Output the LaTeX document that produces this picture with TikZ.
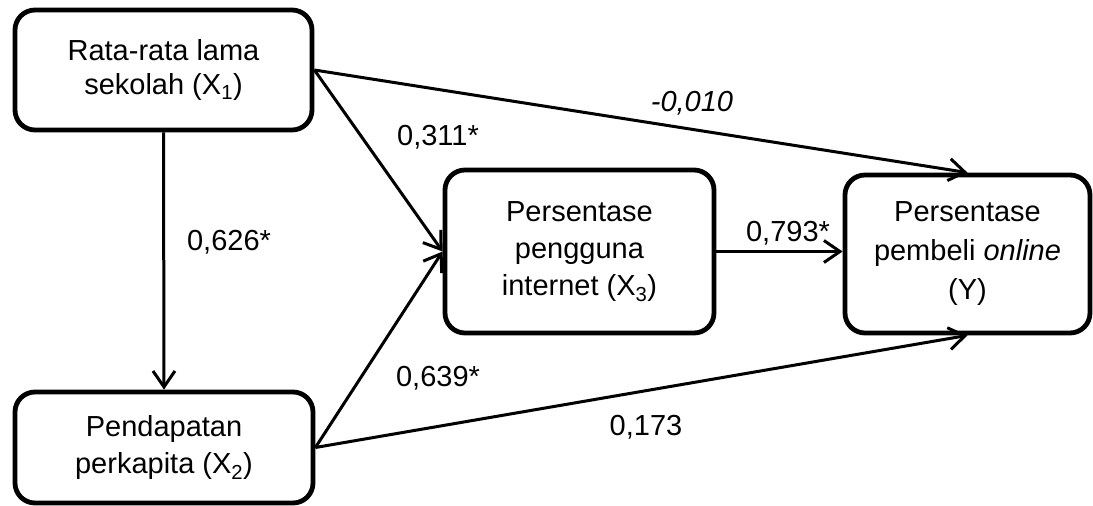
\documentclass[tikz,border=0pt]{standalone}
\usepackage{fontspec}
\setmainfont{Liberation Sans}
\usetikzlibrary{arrows.meta}
\begin{document}
\begin{tikzpicture}[x=1pt,y=-1pt,
  box/.style={draw, line width=4.8pt, rounded corners=20pt, inner sep=0pt, align=center, font=\fontsize{29}{37}\selectfont},
  arr/.style={line width=3pt, -{Straight Barb[length=16pt,width=22pt]}},
  lbl/.style={inner sep=0pt, font=\fontsize{29}{35}\selectfont}]
\useasboundingbox (0,0) rectangle (1093,506);
\node[box, minimum width=297pt, minimum height=120pt, font=\fontsize{29}{34}\selectfont] (x1) at (163.5,70) {Rata-rata lama\\sekolah (X\textsubscript{1})};
\node[box, minimum width=298pt, minimum height=111pt] (x2) at (164,447.5) {Pendapatan\\perkapita (X\textsubscript{2})};
\node[box, minimum width=269pt, minimum height=163pt] (x3) at (579.5,251.5) {Persentase\\pengguna\\internet (X\textsubscript{3})};
\node[box, minimum width=245pt, minimum height=158pt, font=\fontsize{29}{39}\selectfont] (y) at (967.5,254) {Persentase\\pembeli \textit{online}\\(Y)};
\draw[arr] (x1.south) -- (x2.north);
\draw[arr] (x1.east) -- (x3.west);
\draw[arr] (x1.east) -- (y.north);
\draw[arr] (x2.east) -- (x3.west);
\draw[arr] (x2.east) -- (y.south);
\draw[arr] (x3.east) -- (x3.east -| y.west);
\node[lbl] (l1) at (229,242) {0,626*};
\node[lbl] (l2) at (438,137) {0,311*};
\node[lbl] (l3) at (692,103) {\textit{-0,010}};
\node[lbl] (l4) at (788,233) {0,793*};
\node[lbl] (l5) at (438,378) {0,639*};
\node[lbl] (l6) at (646,427) {0,173};
\end{tikzpicture}
\end{document}
